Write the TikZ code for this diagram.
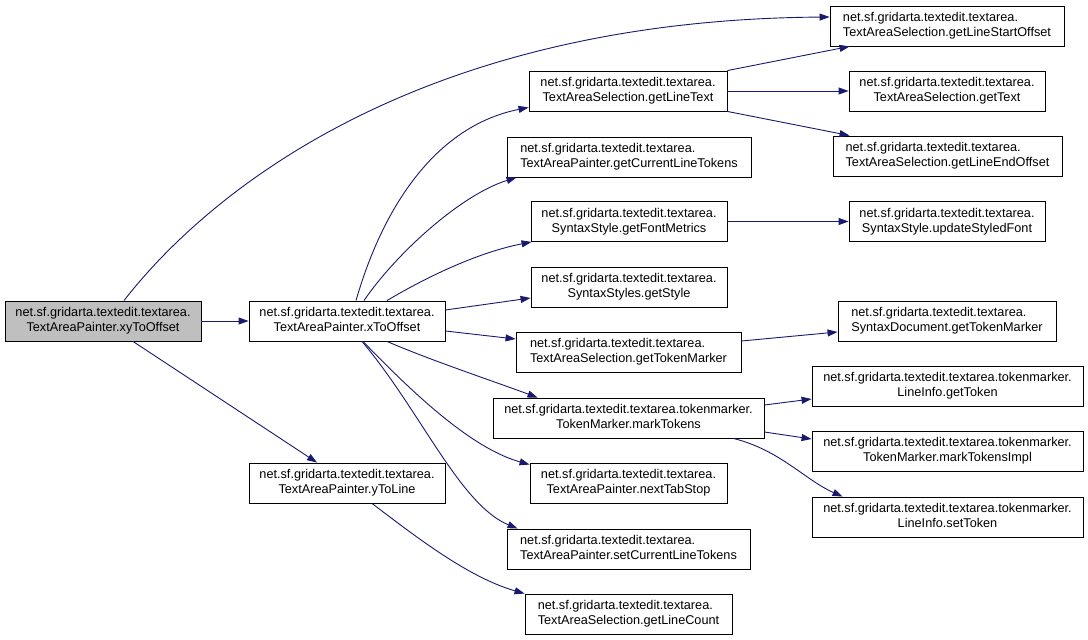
\documentclass[tikz,border=0pt]{standalone}
\usepackage{fontspec}
\setmainfont{Liberation Sans}
\usetikzlibrary{arrows.meta}
\definecolor{edgecol}{RGB}{25,25,112}
\definecolor{rootfill}{RGB}{191,191,191}
\newcommand{\lbl}[2]{\begin{tabular}{@{}c@{}}\multicolumn{1}{@{}l@{}}{#1}\\#2\end{tabular}}
\tikzset{
  fn/.style={draw=black, line width=0.9pt, fill=white, rectangle, inner sep=0pt,
    minimum height=40pt, font=\fontsize{12.7}{15}\selectfont},
  rootfn/.style={fn, fill=rootfill},
  call/.style={draw=edgecol, line width=0.9pt, -{Triangle[length=10pt,width=7pt]}, color=edgecol}
}
\begin{document}
\begin{tikzpicture}[x=1pt,y=-1pt]
\useasboundingbox (0,0) rectangle (1088,640);
\fill[white] (0,0) rectangle (1088,640);
% column 1
\node[rootfn, minimum width=196pt] (xy) at (103,321) {\lbl{net.sf.gridarta.textedit.textarea.}{TextAreaPainter.xyToOffset}};
% column 2
\node[fn, minimum width=196pt] (xto) at (347,321) {\lbl{net.sf.gridarta.textedit.textarea.}{TextAreaPainter.xToOffset}};
\node[fn, minimum width=196pt] (ytl) at (347,483) {\lbl{net.sf.gridarta.textedit.textarea.}{TextAreaPainter.yToLine}};
% column 3
\node[fn, minimum width=198pt] (glt) at (628,91) {\lbl{net.sf.gridarta.textedit.textarea.}{TextAreaSelection.getLineText}};
\node[fn, minimum width=244pt] (gclt) at (629,157) {\lbl{net.sf.gridarta.textedit.textarea.}{TextAreaPainter.getCurrentLineTokens}};
\node[fn, minimum width=196pt] (gfm) at (629,221.5) {\lbl{net.sf.gridarta.textedit.textarea.}{SyntaxStyle.getFontMetrics}};
\node[fn, minimum width=196pt] (gst) at (629,287) {\lbl{net.sf.gridarta.textedit.textarea.}{SyntaxStyles.getStyle}};
\node[fn, minimum width=225pt] (gtm) at (628.5,352) {\lbl{net.sf.gridarta.textedit.textarea.}{TextAreaSelection.getTokenMarker}};
\node[fn, minimum width=271pt] (mt) at (628.5,418) {\lbl{net.sf.gridarta.textedit.textarea.tokenmarker.}{TokenMarker.markTokens}};
\node[fn, minimum width=197pt] (nts) at (628.5,483) {\lbl{net.sf.gridarta.textedit.textarea.}{TextAreaPainter.nextTabStop}};
\node[fn, minimum width=243pt] (sclt) at (628.5,549) {\lbl{net.sf.gridarta.textedit.textarea.}{TextAreaPainter.setCurrentLineTokens}};
\node[fn, minimum width=207pt] (glc) at (628.5,614) {\lbl{net.sf.gridarta.textedit.textarea.}{TextAreaSelection.getLineCount}};
% column 4
\node[fn, minimum width=234pt] (glso) at (947,26) {\lbl{net.sf.gridarta.textedit.textarea.}{TextAreaSelection.getLineStartOffset}};
\node[fn, minimum width=196pt] (gtx) at (947,91) {\lbl{net.sf.gridarta.textedit.textarea.}{TextAreaSelection.getText}};
\node[fn, minimum width=229pt] (gleo) at (947.5,156) {\lbl{net.sf.gridarta.textedit.textarea.}{TextAreaSelection.getLineEndOffset}};
\node[fn, minimum width=196pt] (usf) at (947,221.5) {\lbl{net.sf.gridarta.textedit.textarea.}{SyntaxStyle.updateStyledFont}};
\node[fn, minimum width=218pt] (sdtm) at (947,321) {\lbl{net.sf.gridarta.textedit.textarea.}{SyntaxDocument.getTokenMarker}};
\node[fn, minimum width=271pt] (lgt) at (947.5,386) {\lbl{net.sf.gridarta.textedit.textarea.tokenmarker.}{LineInfo.getToken}};
\node[fn, minimum width=271pt] (mti) at (947.5,451) {\lbl{net.sf.gridarta.textedit.textarea.tokenmarker.}{TokenMarker.markTokensImpl}};
\node[fn, minimum width=271pt] (lst) at (947.5,517) {\lbl{net.sf.gridarta.textedit.textarea.tokenmarker.}{LineInfo.setToken}};
% edges
\draw[call] (xy.east) -- (xto.west);
\draw[call] ([xshift=30pt]xy.south) -- ([xshift=-30pt]ytl.north);
\draw[call] ([xshift=21pt]xy.north) .. controls (210,190) and (420,20) .. ([yshift=9pt]glso.west);
\draw[call] ([xshift=9pt]xto.north) .. controls (385,200) and (440,125) .. ([yshift=4pt]glt.south west);
\draw[call] ([xshift=17pt]xto.north) .. controls (395,255) and (460,195) .. ([xshift=10pt]gclt.south west);
\draw[call] ([xshift=40pt]xto.north) .. controls (430,275) and (480,252) .. ([xshift=1pt]gfm.south west);
\draw[call] ([yshift=11pt]xto.east) -- ([yshift=-11pt]gst.west);
\draw[call] ([yshift=-10pt]xto.east) -- ([yshift=13pt]gtm.west);
\draw[call] ([xshift=40pt]xto.south) .. controls (430,360) and (490,380) .. ([xshift=45pt]mt.north west);
\draw[call] ([xshift=16pt]xto.south) .. controls (410,390) and (470,448) .. ([yshift=-2pt]nts.north west);
\draw[call] ([xshift=15pt]xto.south) .. controls (420,410) and (460,505) .. ([xshift=11pt]sclt.north west);
\draw[call] ([xshift=25pt]ytl.south) .. controls (420,540) and (470,578) .. (glc.north west);
\draw[call] (glt.north east) -- ([xshift=20pt]glso.south west);
\draw[call] (glt.east) -- (gtx.west);
\draw[call] (glt.south east) -- ([xshift=17pt]gleo.north west);
\draw[call] (gfm.east) -- (usf.west);
\draw[call] ([yshift=11pt]gtm.east) -- ([yshift=-11pt]sdtm.west);
\draw[call] ([yshift=13pt]mt.east) -- ([yshift=-13pt]lgt.west);
\draw[call] ([yshift=-14pt]mt.east) -- ([yshift=12pt]mti.west);
\draw[call] ([xshift=-31pt]mt.south east) .. controls (780,450) and (805,480) .. ([xshift=31pt]lst.north west);
\end{tikzpicture}
\end{document}
